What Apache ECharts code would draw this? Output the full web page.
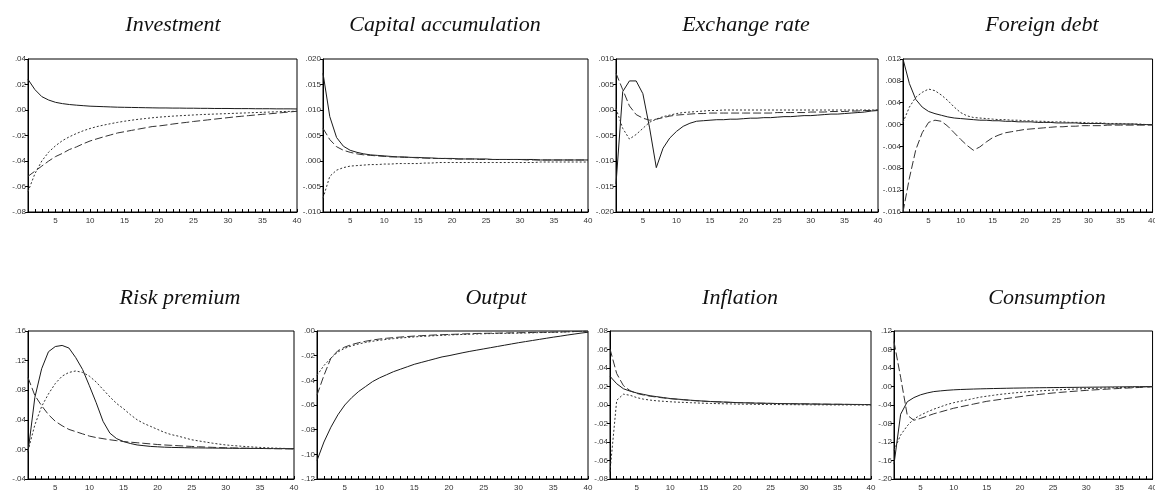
<!DOCTYPE html>
<html>
<head>
<meta charset="utf-8">
<script src="https://cdn.jsdelivr.net/npm/echarts@6/dist/echarts.min.js"></script>
<style>
  html, body { margin: 0; padding: 0; background: #fff; overflow: hidden; }
  #main { width: 1160px; height: 492px; }
</style>
</head>
<body>
<div id="main"></div>
<script>
// periods on the horizontal axis
var periods = [1,2,3,4,5,6,7,8,9,10,11,12,13,14,15,16,17,18,19,20,21,22,23,24,25,26,27,28,29,30,31,32,33,34,35,36,37,38,39,40];

var panelTitles = ['Investment', 'Capital accumulation', 'Exchange rate', 'Foreign debt',
                   'Risk premium', 'Output', 'Inflation', 'Consumption'];

// Investment
var invSolid = [0.024,0.016,0.0105,0.0078,0.006,0.005,0.0043,0.0038,0.0034,0.003,0.0028,0.0026,0.0024,0.0022,0.0021,0.002,0.0019,0.0018,0.0017,0.0016,0.0016,0.0015,0.0015,0.0014,0.0014,0.0013,0.0013,0.0012,0.0012,0.0012,0.0011,0.0011,0.0011,0.001,0.001,0.001,0.0009,0.0009,0.0009,0.0008];
var invDot = [-0.064,-0.05,-0.04,-0.033,-0.028,-0.024,-0.021,-0.0185,-0.0163,-0.0145,-0.013,-0.0118,-0.0107,-0.0097,-0.0088,-0.008,-0.0073,-0.0067,-0.0061,-0.0056,-0.0052,-0.0048,-0.0045,-0.0042,-0.0039,-0.0036,-0.0034,-0.0032,-0.003,-0.0028,-0.0026,-0.0024,-0.0022,-0.002,-0.0018,-0.0016,-0.0014,-0.0012,-0.0011,-0.001];
var invDash = [-0.052,-0.048,-0.044,-0.04,-0.0365,-0.034,-0.031,-0.029,-0.0265,-0.0243,-0.0226,-0.021,-0.0195,-0.018,-0.017,-0.016,-0.015,-0.014,-0.013,-0.0125,-0.0118,-0.011,-0.0103,-0.0097,-0.009,-0.0084,-0.0078,-0.0072,-0.0066,-0.006,-0.0054,-0.0049,-0.0044,-0.0039,-0.0034,-0.003,-0.0025,-0.002,-0.0015,-0.001];

// Capital accumulation
var capSolid = [0.0172,0.0087,0.0046,0.0029,0.0021,0.0017,0.0014,0.0012,0.0011,0.001,0.0009,0.0008,0.0008,0.0007,0.0007,0.0006,0.0006,0.0005,0.0005,0.0005,0.0004,0.0004,0.0004,0.0004,0.0004,0.0003,0.0003,0.0003,0.0003,0.0003,0.0003,0.0003,0.0002,0.0002,0.0002,0.0002,0.0002,0.0002,0.0002,0.0002];
var capDot = [-0.0073,-0.003,-0.0018,-0.0013,-0.001,-0.0009,-0.0008,-0.0007,-0.0007,-0.0006,-0.0006,-0.0005,-0.0005,-0.0005,-0.0005,-0.0004,-0.0004,-0.0003,-0.0003,-0.0003,-0.0003,-0.0003,-0.0003,-0.0003,-0.0003,-0.0003,-0.0003,-0.0003,-0.0003,-0.0003,-0.0003,-0.0003,-0.0002,-0.0002,-0.0002,-0.0002,-0.0002,-0.0002,-0.0002,-0.0002];
var capDash = [0.0064,0.0042,0.0028,0.0021,0.0017,0.0014,0.0012,0.0011,0.001,0.0009,0.0008,0.0008,0.0007,0.0007,0.0006,0.0006,0.0005,0.0005,0.0005,0.0004,0.0004,0.0004,0.0004,0.0003,0.0003,0.0003,0.0003,0.0003,0.0003,0.0003,0.0002,0.0002,0.0002,0.0002,0.0002,0.0002,0.0002,0.0002,0.0002,0.0002];

// Exchange rate
var exSolid = [-0.0145,0.0036,0.0057,0.0057,0.0032,-0.0035,-0.0113,-0.0075,-0.0055,-0.0042,-0.0032,-0.0026,-0.0022,-0.0021,-0.002,-0.0019,-0.0019,-0.0018,-0.0018,-0.0017,-0.0016,-0.0016,-0.0015,-0.0015,-0.0014,-0.0013,-0.0013,-0.0012,-0.0011,-0.0011,-0.001,-0.0009,-0.0008,-0.0008,-0.0007,-0.0006,-0.0005,-0.0004,-0.0002,-0.0001];
var exDot = [0.0003,-0.0036,-0.0057,-0.0048,-0.0036,-0.0024,-0.0018,-0.0013,-0.001,-0.0007,-0.0005,-0.0004,-0.0003,-0.0002,-0.0001,-0.0001,0,0,0,0,0,0,0,0,0,0,0,0,0,0,0,0,0,0,0,0,0,0,0,0];
var exDash = [0.0072,0.004,0.0008,-0.0009,-0.0016,-0.002,-0.0018,-0.0015,-0.0012,-0.001,-0.0009,-0.0008,-0.0007,-0.0007,-0.0006,-0.0006,-0.0006,-0.0006,-0.0006,-0.0006,-0.0006,-0.0006,-0.0006,-0.0006,-0.0005,-0.0005,-0.0005,-0.0005,-0.0005,-0.0004,-0.0004,-0.0004,-0.0003,-0.0003,-0.0003,-0.0002,-0.0002,-0.0001,-0.0001,0];

// Foreign debt
var fdSolid = [0.012,0.0075,0.0046,0.0032,0.0024,0.002,0.0017,0.0014,0.0012,0.0011,0.001,0.0009,0.0008,0.0008,0.0007,0.0007,0.0006,0.0006,0.0005,0.0005,0.0005,0.0004,0.0004,0.0004,0.0003,0.0003,0.0003,0.0003,0.0002,0.0002,0.0002,0.0002,0.0001,0.0001,0.0001,0.0001,0.0001,0,0,0];
var fdDot = [0.0004,0.0032,0.005,0.0059,0.0065,0.0062,0.0054,0.0044,0.0032,0.0022,0.0016,0.0013,0.0012,0.0011,0.001,0.0009,0.0009,0.0008,0.0008,0.0007,0.0007,0.0006,0.0006,0.0005,0.0005,0.0005,0.0004,0.0004,0.0004,0.0003,0.0003,0.0003,0.0002,0.0002,0.0002,0.0001,0.0001,0.0001,0,0];
var fdDash = [-0.016,-0.0098,-0.0046,-0.0015,0.0004,0.0008,0.0006,-0.0003,-0.0015,-0.0027,-0.0038,-0.0047,-0.0041,-0.0032,-0.0024,-0.0019,-0.0015,-0.0013,-0.0011,-0.0009,-0.0008,-0.0007,-0.0006,-0.0005,-0.0004,-0.0004,-0.0003,-0.0003,-0.0002,-0.0002,-0.0002,-0.0002,-0.0001,-0.0001,-0.0001,-0.0001,-0.0001,-0.0001,-0.0001,-0.0001];

// Risk premium
var rpSolid = [-0.004,0.07,0.109,0.132,0.139,0.1405,0.137,0.124,0.108,0.086,0.063,0.038,0.022,0.0145,0.0106,0.008,0.006,0.005,0.004,0.0035,0.003,0.0027,0.0025,0.0023,0.0021,0.002,0.0019,0.0018,0.0017,0.0016,0.0015,0.0014,0.0014,0.0013,0.0012,0.0012,0.0011,0.0011,0.001,0.001];
var rpDot = [-0.002,0.033,0.058,0.075,0.089,0.099,0.104,0.106,0.104,0.099,0.091,0.081,0.071,0.062,0.055,0.047,0.04,0.035,0.031,0.027,0.023,0.02,0.018,0.0155,0.013,0.0115,0.01,0.0085,0.0072,0.006,0.0052,0.0045,0.0038,0.0032,0.0027,0.0022,0.0018,0.0015,0.0012,0.001];
var rpDash = [0.097,0.073,0.059,0.047,0.038,0.032,0.027,0.024,0.021,0.018,0.016,0.0145,0.013,0.0118,0.0106,0.0098,0.009,0.0082,0.0074,0.0066,0.006,0.0055,0.005,0.0045,0.004,0.0036,0.0032,0.0028,0.0025,0.0022,0.002,0.0018,0.0016,0.0014,0.0013,0.0011,0.001,0.0008,0.0007,0.0005];

// Output
var outSolid = [-0.105,-0.09,-0.078,-0.068,-0.06,-0.054,-0.049,-0.045,-0.041,-0.038,-0.0355,-0.033,-0.031,-0.029,-0.027,-0.0255,-0.024,-0.0225,-0.021,-0.02,-0.0188,-0.0176,-0.0165,-0.0155,-0.0145,-0.0135,-0.0125,-0.0115,-0.0105,-0.0095,-0.0086,-0.0077,-0.0068,-0.0059,-0.005,-0.0042,-0.0033,-0.0025,-0.0017,-0.001];
var outDot = [-0.036,-0.028,-0.022,-0.017,-0.014,-0.012,-0.0105,-0.0093,-0.0083,-0.0075,-0.0068,-0.0062,-0.0057,-0.0052,-0.0048,-0.0044,-0.0041,-0.0038,-0.0035,-0.0032,-0.003,-0.0028,-0.0026,-0.0024,-0.0022,-0.0021,-0.002,-0.0019,-0.0018,-0.0017,-0.0016,-0.0015,-0.0013,-0.0012,-0.0011,-0.0009,-0.0007,-0.0005,-0.0003,-0.0001];
var outDash = [-0.052,-0.036,-0.022,-0.016,-0.013,-0.011,-0.0095,-0.0083,-0.0073,-0.0065,-0.0059,-0.0054,-0.0049,-0.0045,-0.0041,-0.0038,-0.0035,-0.0032,-0.003,-0.0028,-0.0026,-0.0024,-0.0022,-0.002,-0.0019,-0.0018,-0.0017,-0.0016,-0.0015,-0.0014,-0.0013,-0.0012,-0.0011,-0.001,-0.0009,-0.0008,-0.0006,-0.0004,-0.0003,-0.0001];

// Inflation
var infSolid = [0.031,0.023,0.0176,0.015,0.013,0.0115,0.01,0.009,0.008,0.007,0.0064,0.0058,0.0052,0.0047,0.0042,0.0038,0.0035,0.0032,0.0029,0.0026,0.0024,0.0022,0.002,0.0019,0.0018,0.0016,0.0015,0.0014,0.0013,0.0012,0.0011,0.001,0.0009,0.0008,0.0008,0.0007,0.0006,0.0006,0.0005,0.0004];
var infDot = [-0.072,0.005,0.0117,0.0105,0.008,0.0063,0.0053,0.0045,0.004,0.0035,0.0031,0.0028,0.0025,0.0022,0.0019,0.0017,0.0015,0.0013,0.0012,0.001,0.0009,0.0008,0.0007,0.0006,0.0005,0.0005,0.0004,0.0004,0.0003,0.0003,0.0002,0.0002,0.0002,0.0001,0.0001,0.0001,0.0001,0,0,0];
var infDash = [0.0606,0.034,0.021,0.0155,0.0125,0.0108,0.0095,0.0085,0.0076,0.0068,0.0062,0.0056,0.005,0.0045,0.0041,0.0037,0.0034,0.0031,0.0028,0.0026,0.0024,0.0022,0.002,0.0019,0.0017,0.0016,0.0015,0.0014,0.0013,0.0012,0.0011,0.001,0.0009,0.0008,0.0007,0.0007,0.0006,0.0005,0.0004,0.0003];

// Consumption
var conSolid = [-0.168,-0.06,-0.033,-0.024,-0.018,-0.014,-0.011,-0.0095,-0.0082,-0.0072,-0.0065,-0.006,-0.0055,-0.0051,-0.0047,-0.0044,-0.0041,-0.0038,-0.0035,-0.0033,-0.0031,-0.0029,-0.0027,-0.0025,-0.0023,-0.0022,-0.002,-0.0019,-0.0017,-0.0016,-0.0014,-0.0013,-0.0011,-0.001,-0.0008,-0.0007,-0.0005,-0.0004,-0.0002,-0.0001];
var conDot = [-0.138,-0.105,-0.085,-0.07,-0.062,-0.055,-0.049,-0.044,-0.039,-0.035,-0.032,-0.029,-0.026,-0.023,-0.021,-0.019,-0.017,-0.0155,-0.014,-0.0128,-0.0116,-0.0105,-0.0095,-0.0086,-0.0078,-0.007,-0.0063,-0.0057,-0.0051,-0.0046,-0.0041,-0.0036,-0.0032,-0.0028,-0.0024,-0.002,-0.0016,-0.0012,-0.0008,-0.0005];
var conDash = [0.097,0.02,-0.062,-0.073,-0.069,-0.064,-0.059,-0.055,-0.051,-0.047,-0.044,-0.041,-0.038,-0.035,-0.032,-0.03,-0.028,-0.026,-0.024,-0.022,-0.02,-0.0185,-0.017,-0.0155,-0.014,-0.0128,-0.0116,-0.0105,-0.0094,-0.0084,-0.0075,-0.0066,-0.0058,-0.005,-0.0042,-0.0035,-0.0028,-0.0021,-0.0014,-0.0008];

// y axis ranges: [min, max, interval, decimals]
var yRanges = [
  [-0.08, 0.04, 0.02, 2],
  [-0.01, 0.02, 0.005, 3],
  [-0.02, 0.01, 0.005, 3],
  [-0.016, 0.012, 0.004, 3],
  [-0.04, 0.16, 0.04, 2],
  [-0.12, 0.00, 0.02, 2],
  [-0.08, 0.08, 0.02, 2],
  [-0.20, 0.12, 0.04, 2]
];

var panelSeries = [
  [invSolid, invDot, invDash],
  [capSolid, capDot, capDash],
  [exSolid, exDot, exDash],
  [fdSolid, fdDot, fdDash],
  [rpSolid, rpDot, rpDash],
  [outSolid, outDot, outDash],
  [infSolid, infDot, infDash],
  [conSolid, conDot, conDash]
];

(function () {
    // layout of each panel: plot box in pixels and title centre
    var boxes = [
        {left: 28,  top: 59,  width: 269, height: 153, tx: 173,  ty: 14},
        {left: 323, top: 59,  width: 265, height: 153, tx: 445,  ty: 14},
        {left: 616, top: 59,  width: 262, height: 153, tx: 746,  ty: 14},
        {left: 903, top: 59,  width: 253, height: 153, tx: 1042, ty: 14},
        {left: 28,  top: 331, width: 266, height: 151, tx: 180,  ty: 287},
        {left: 317, top: 331, width: 271, height: 151, tx: 496,  ty: 287},
        {left: 610, top: 331, width: 261, height: 151, tx: 740,  ty: 287},
        {left: 894, top: 331, width: 264, height: 151, tx: 1047, ty: 287}
    ];
    var lineTypes = [
        {type: 'solid', color: '#1a1a1a'},
        {type: [2, 2], color: '#333'},
        {type: [8, 3], color: '#333'}
    ];

    var titles = [], grids = [], xAxes = [], yAxes = [], series = [];
    for (var i = 0; i < boxes.length; i++) {
        var b = boxes[i];
        var r = yRanges[i];
        titles.push({
            text: panelTitles[i],
            left: b.tx,
            top: b.ty,
            textAlign: 'center',
            padding: 0,
            textStyle: {fontFamily: 'Liberation Serif', fontStyle: 'italic', fontWeight: 'normal', fontSize: 22, color: '#111'}
        });
        grids.push({
            left: b.left, top: b.top, width: b.width, height: b.height,
            show: true, borderColor: '#000', borderWidth: 1, backgroundColor: 'transparent'
        });
        xAxes.push({
            type: 'value', gridIndex: i, min: 1, max: 40, interval: 1,
            axisLine: {show: true, onZero: false, lineStyle: {color: '#000', width: 1}},
            axisTick: {show: true, inside: true, length: 3, lineStyle: {color: '#000'}},
            splitLine: {show: false},
            axisLabel: {
                margin: 5, fontSize: 8, color: '#333', fontFamily: 'Liberation Sans',
                showMinLabel: true, showMaxLabel: true,
                formatter: function (v) { return v % 5 === 0 ? String(v) : ''; }
            }
        });
        yAxes.push({
            type: 'value', gridIndex: i, min: r[0], max: r[1], interval: r[2],
            axisLine: {show: true, onZero: false, lineStyle: {color: '#000', width: 1}},
            axisTick: {show: true, inside: false, length: 3, lineStyle: {color: '#000'}},
            splitLine: {show: false},
            axisLabel: {
                margin: 2, fontSize: 8, color: '#333', fontFamily: 'Liberation Sans',
                formatter: (function (dec) {
                    return function (v) {
                        var s = Math.abs(v).toFixed(dec).replace(/^0/, '');
                        return (v < -1e-9 ? '-' : '') + s;
                    };
                })(r[3])
            }
        });
        for (var k = 0; k < 3; k++) {
            var vals = panelSeries[i][k];
            series.push({
                type: 'line',
                xAxisIndex: i,
                yAxisIndex: i,
                showSymbol: false,
                symbol: 'none',
                silent: true,
                data: periods.map(function (p, j) { return [p, vals[j]]; }),
                lineStyle: {width: 1, type: lineTypes[k].type, color: lineTypes[k].color}
            });
        }
    }

    var chart = echarts.init(document.getElementById('main'), null, {renderer: 'canvas'});
    chart.setOption({
        animation: false,
        backgroundColor: '#fff',
        title: titles,
        grid: grids,
        xAxis: xAxes,
        yAxis: yAxes,
        series: series
    });
})();
</script>
</body>
</html>
